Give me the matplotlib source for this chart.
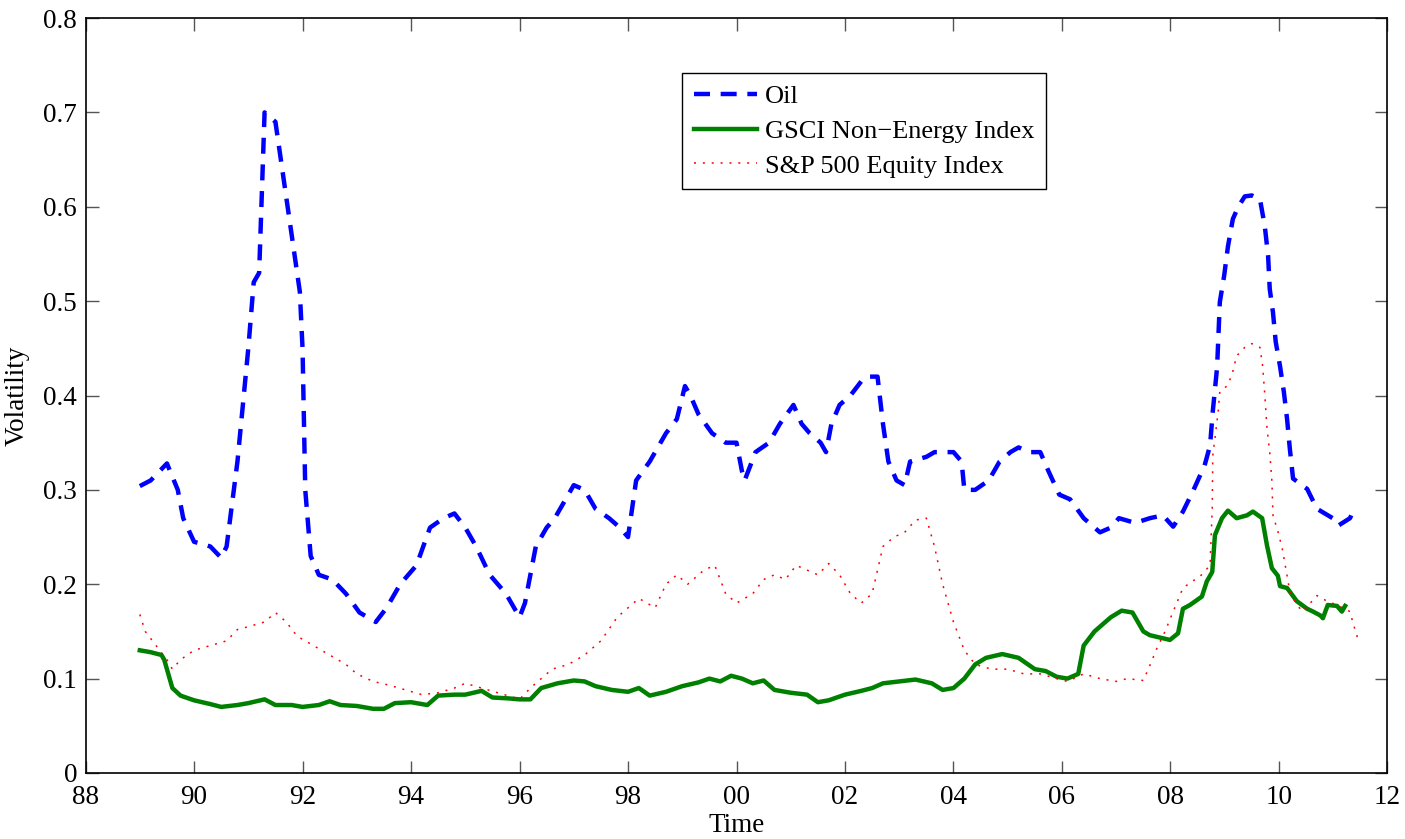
import numpy as np
import matplotlib.pyplot as plt

# values, x in years since 1900
oil_t = [89.0, 89.2, 89.5, 89.7, 89.8, 90.0, 90.3, 90.5, 90.6, 90.8, 91.0, 91.1, 91.2,
         91.3, 91.5, 91.65, 91.8, 91.95, 92.0, 92.05, 92.15, 92.3, 92.55, 92.8, 93.05,
         93.35, 93.55, 93.8, 94.1, 94.35, 94.6, 94.8, 95.0, 95.2, 95.45, 95.75, 96.0,
         96.1, 96.3, 96.5, 96.65, 96.85, 97.0, 97.2, 97.4, 97.65, 97.85, 98.0, 98.15,
         98.4, 98.7, 98.9, 99.05, 99.15, 99.3, 99.55, 99.8, 100.0, 100.1, 100.15, 100.35,
         100.6, 100.8, 101.05, 101.2, 101.35, 101.55, 101.65, 101.75, 101.9, 102.1, 102.3,
         102.4, 102.6, 102.7, 102.8, 102.95, 103.1, 103.2, 103.5, 103.65, 103.85, 104.0,
         104.15, 104.2, 104.4, 104.65, 104.85, 105.05, 105.2, 105.4, 105.6, 105.75, 105.95,
         106.15, 106.4, 106.7, 106.9, 107.05, 107.35, 107.62, 107.86, 108.05, 108.23, 108.41,
         108.63, 108.73, 108.78, 108.86, 108.91, 108.99, 109.06, 109.15, 109.25, 109.37,
         109.5, 109.65, 109.74, 109.8, 109.83, 109.89, 109.94, 110.02, 110.09, 110.15,
         110.2, 110.26, 110.52, 110.7, 110.99, 111.09, 111.31, 111.4]
oil_v = [0.304, 0.31, 0.328, 0.30, 0.27, 0.245, 0.24, 0.228, 0.24, 0.33, 0.45, 0.52, 0.53,
         0.70, 0.69, 0.63, 0.57, 0.51, 0.45, 0.30, 0.23, 0.21, 0.205, 0.19, 0.17,
         0.16, 0.175, 0.20, 0.22, 0.26, 0.27, 0.275, 0.26, 0.24, 0.21, 0.19, 0.165,
         0.18, 0.24, 0.26, 0.27, 0.29, 0.305, 0.30, 0.28, 0.27, 0.26, 0.25, 0.31,
         0.33, 0.36, 0.375, 0.41, 0.40, 0.38, 0.36, 0.35, 0.35, 0.32, 0.31, 0.34,
         0.35, 0.37, 0.39, 0.37, 0.36, 0.35, 0.34, 0.37, 0.39, 0.40, 0.415,
         0.42, 0.42, 0.37, 0.33, 0.31, 0.305, 0.33, 0.335, 0.34, 0.34, 0.34,
         0.33, 0.30, 0.30, 0.31, 0.33, 0.34, 0.345, 0.34, 0.34, 0.32, 0.295,
         0.29, 0.27, 0.255, 0.26, 0.27, 0.265, 0.27, 0.273, 0.261, 0.277, 0.298,
         0.326, 0.347, 0.383, 0.43, 0.499, 0.527, 0.558, 0.587, 0.60, 0.611,
         0.612, 0.608, 0.579, 0.548, 0.513, 0.488, 0.457, 0.431, 0.404, 0.375,
         0.344, 0.312, 0.301, 0.28, 0.27, 0.262, 0.27, 0.282]

gsci_t = [89.0, 89.2, 89.4, 89.45, 89.6, 89.75, 90.0, 90.3, 90.5, 90.8, 91.0, 91.3, 91.5,
          91.8, 92.0, 92.3, 92.5, 92.7, 93.0, 93.3, 93.5, 93.7, 94.0, 94.3, 94.5, 94.8,
          95.0, 95.3, 95.5, 95.8, 96.0, 96.2, 96.4, 96.7, 97.0, 97.2, 97.4, 97.7, 98.0,
          98.2, 98.4, 98.7, 99.0, 99.3, 99.5, 99.7, 99.9, 100.1, 100.3, 100.5, 100.7,
          101.0, 101.3, 101.5, 101.7, 102.0, 102.3, 102.5, 102.7, 103.0, 103.3, 103.6,
          103.8, 104.0, 104.2, 104.4, 104.6, 104.9, 105.2, 105.5, 105.7, 105.9, 106.1,
          106.3, 106.4, 106.6, 106.9, 107.1, 107.3, 107.5, 107.62, 107.99, 108.14, 108.23,
          108.36, 108.58, 108.67, 108.77, 108.82, 108.95, 109.06, 109.22, 109.41, 109.52,
          109.69, 109.78, 109.87, 109.98, 110.02, 110.15, 110.33, 110.52, 110.63, 110.76,
          110.81, 110.9, 111.07, 111.16, 111.22]
gsci_v = [0.13, 0.128, 0.125, 0.12, 0.09, 0.082, 0.077, 0.073, 0.07, 0.072, 0.074, 0.078, 0.072,
          0.072, 0.07, 0.072, 0.076, 0.072, 0.071, 0.068, 0.068, 0.074, 0.075, 0.072, 0.082, 0.083,
          0.083, 0.087, 0.08, 0.079, 0.078, 0.078, 0.09, 0.095, 0.098, 0.097, 0.092, 0.088, 0.086,
          0.09, 0.082, 0.086, 0.092, 0.096, 0.10, 0.097, 0.103, 0.10, 0.095, 0.098, 0.088,
          0.085, 0.083, 0.075, 0.077, 0.083, 0.087, 0.09, 0.095, 0.097, 0.099, 0.095,
          0.088, 0.09, 0.10, 0.115, 0.122, 0.126, 0.122, 0.11, 0.108, 0.102, 0.10,
          0.105, 0.135, 0.15, 0.165, 0.172, 0.17, 0.15, 0.146, 0.141, 0.148, 0.174,
          0.178, 0.187, 0.203, 0.213, 0.252, 0.27, 0.278, 0.27, 0.273, 0.277,
          0.27, 0.241, 0.217, 0.209, 0.198, 0.196, 0.182, 0.174, 0.171, 0.167,
          0.164, 0.178, 0.177, 0.171, 0.177]

sp_t = [89.0, 89.1, 89.3, 89.5, 89.6, 89.75, 90.0, 90.3, 90.6, 90.8, 91.0, 91.3, 91.5, 91.7,
        91.9, 92.2, 92.5, 92.8, 93.0, 93.3, 93.6, 93.9, 94.2, 94.5, 94.8, 95.0, 95.3, 95.6,
        95.9, 96.0, 96.2, 96.4, 96.6, 96.9, 97.2, 97.5, 97.8, 98.0, 98.2, 98.5, 98.7, 98.9,
        99.1, 99.4, 99.6, 99.8, 100.0, 100.3, 100.5, 100.7, 100.9, 101.1, 101.3, 101.5,
        101.7, 101.9, 102.1, 102.3, 102.5, 102.7, 102.9, 103.1, 103.3, 103.5, 103.65,
        103.8, 104.0, 104.2, 104.4, 104.7, 105.0, 105.3, 105.6, 105.9, 106.1, 106.4, 106.7,
        107.0, 107.2, 107.5, 107.62, 107.75, 107.9, 108.05, 108.23, 108.4, 108.54, 108.73,
        108.77, 108.78, 108.88, 108.91, 109.04, 109.13, 109.22, 109.37, 109.5, 109.65,
        109.7, 109.74, 109.78, 109.83, 109.87, 109.89, 109.98, 110.06, 110.15, 110.2,
        110.33, 110.44, 110.7, 110.89, 111.07, 111.31, 111.36, 111.45]
sp_v = [0.168, 0.15, 0.135, 0.12, 0.11, 0.12, 0.13, 0.135, 0.14, 0.152, 0.155, 0.16, 0.17, 0.16,
        0.145, 0.135, 0.125, 0.115, 0.105, 0.097, 0.093, 0.088, 0.083, 0.085, 0.09, 0.095, 0.09, 0.085,
        0.08, 0.078, 0.09, 0.10, 0.11, 0.115, 0.125, 0.14, 0.165, 0.175, 0.185, 0.175, 0.20, 0.21,
        0.20, 0.215, 0.22, 0.19, 0.18, 0.19, 0.205, 0.21, 0.205, 0.22, 0.215, 0.21,
        0.222, 0.21, 0.19, 0.18, 0.19, 0.24, 0.25, 0.255, 0.268, 0.27, 0.24,
        0.20, 0.16, 0.13, 0.115, 0.11, 0.11, 0.105, 0.105, 0.10, 0.097, 0.105, 0.10,
        0.097, 0.10, 0.098, 0.114, 0.132, 0.15, 0.171, 0.196, 0.203, 0.208, 0.22,
        0.28, 0.336, 0.383, 0.404, 0.41, 0.421, 0.442, 0.451, 0.455, 0.451,
        0.431, 0.40, 0.365, 0.34, 0.309, 0.273, 0.256, 0.238, 0.209, 0.192,
        0.178, 0.171, 0.188, 0.182, 0.178, 0.171, 0.16, 0.143]

xticks = list(range(88, 113, 2))
xlabels = ['%02d' % (y % 100) for y in xticks]

plt.rcParams['font.family'] = ['Liberation Serif', 'DejaVu Serif']

fig = plt.figure(figsize=(14.05, 8.39), dpi=100)
ax = fig.add_axes([0.0609, 0.0787, 0.9266, 0.8998])

ax.plot(oil_t, oil_v, color='blue', lw=3.2, dashes=(3.6, 2.4), label='Oil')
ax.plot(gsci_t, gsci_v, color='green', lw=3.2, label='GSCI Non\u2212Energy Index')
ax.plot(sp_t, sp_v, color='red', lw=1.1, dashes=(1.3, 4.5), label='S&P 500 Equity Index')

ax.set_xlim(88, 112)
ax.set_ylim(0, 0.8)
ax.set_xticks(xticks)
ax.set_xticklabels(xlabels)
ax.set_yticks(np.arange(0, 0.81, 0.1))
ax.set_yticklabels(['0'] + ['%.1f' % v for v in np.arange(0.1, 0.81, 0.1)])
ax.tick_params(direction='in', length=9, width=1, top=True, right=True,
               labelsize=19.5, color='#555555')
ax.tick_params(axis='x', pad=9)
ax.tick_params(axis='y', pad=6)
for s in ax.spines.values():
    s.set_linewidth(1.2)

ax.set_xlabel('Time', fontsize=19.5, labelpad=2)
ax.set_ylabel('Volatility', fontsize=19.5, labelpad=10)

leg = ax.legend(loc='upper left', bbox_to_anchor=(0.458, 0.927), fontsize=19,
                fancybox=False, framealpha=1, edgecolor='black',
                handlelength=2.4, handletextpad=0.3, borderpad=0.45, labelspacing=0.42,
                borderaxespad=0)
leg.get_frame().set_linewidth(1.0)

fig.savefig('out.png', dpi=100)
